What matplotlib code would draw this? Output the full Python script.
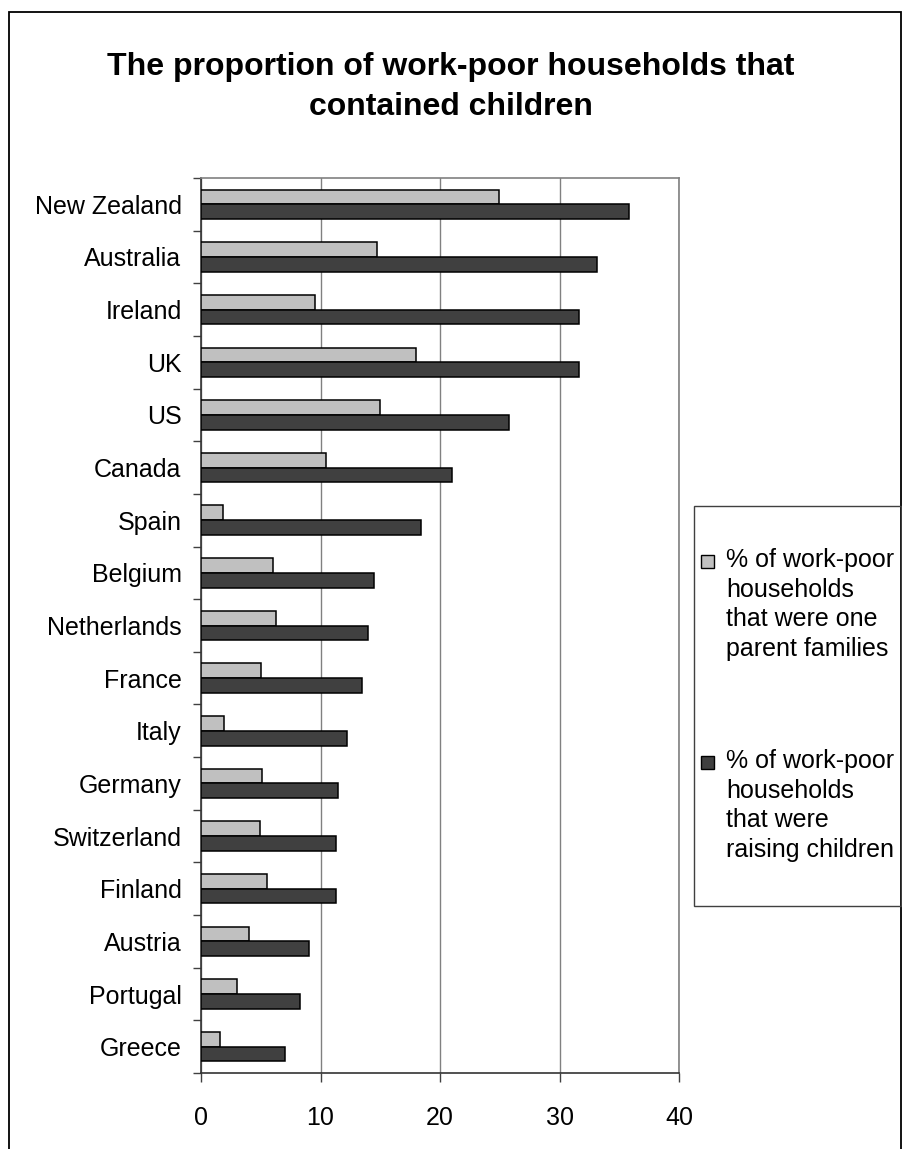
import matplotlib
matplotlib.use("Agg")
import matplotlib.pyplot as plt
import numpy as np
from matplotlib.patches import Rectangle
from matplotlib.ticker import FixedLocator, NullFormatter

# ---- data ----
countries = ["New Zealand", "Australia", "Ireland", "UK", "US", "Canada", "Spain",
             "Belgium", "Netherlands", "France", "Italy", "Germany", "Switzerland",
             "Finland", "Austria", "Portugal", "Greece"]
one_parent = [24.9, 14.7, 9.5, 18.0, 15.0, 10.5, 1.8, 6.0, 6.3, 5.0, 1.9, 5.1,
              4.9, 5.5, 4.0, 3.0, 1.6]
raising_children = [35.8, 33.1, 31.6, 31.6, 25.8, 21.0, 18.4, 14.5, 14.0, 13.5,
                    12.2, 11.5, 11.3, 11.3, 9.0, 8.3, 7.0]
x_ticks = [0, 10, 20, 30, 40]
series_labels = ["% of work-poor\nhouseholds\nthat were one\nparent families",
                 "% of work-poor\nhouseholds\nthat were\nraising children"]
title = "The proportion of work-poor households that\ncontained children"

LIGHT = "#C0C0C0"
DARK = "#404040"
FONT = "Liberation Sans"

W, H = 902, 1149
plt.rcParams['font.family'] = [FONT, 'DejaVu Sans']
fig = plt.figure(figsize=(W / 100, H / 100), dpi=100)


def fx(x):
    return x / W


def fy(y):
    return 1 - y / H


# figure border (bottom edge off-canvas)
fig.patches.append(Rectangle((fx(8.5), -0.05), fx(900.5) - fx(8.5), fy(11.5) + 0.05,
                             transform=fig.transFigure, fill=False,
                             edgecolor="black", linewidth=1.3, zorder=0))

ax = fig.add_axes([fx(201), fy(1073), fx(679) - fx(201), fy(178) - fy(1073)])

n = len(countries)
y = np.arange(n)
bh = 0.28
ax.barh(y - bh / 2, one_parent, height=bh, color=LIGHT, edgecolor="black",
        linewidth=1.1, zorder=3)
ax.barh(y + bh / 2, raising_children, height=bh, color=DARK, edgecolor="black",
        linewidth=1.1, zorder=3)

ax.set_ylim(n - 0.5, -0.5)
ax.set_xlim(x_ticks[0], x_ticks[-1])
ax.set_xticks(x_ticks)
ax.set_xticklabels([str(t) for t in x_ticks], fontsize=18)
ax.set_yticks(y)
ax.set_yticklabels(countries, fontsize=18)
ax.yaxis.set_minor_locator(FixedLocator(np.arange(-0.5, n, 1.0)))
ax.yaxis.set_minor_formatter(NullFormatter())
ax.tick_params(axis="y", which="major", length=0, pad=14)
ax.tick_params(axis="y", which="minor", length=6, width=1, color="#404040",
               direction="out")
ax.tick_params(axis="x", which="major", length=6.5, width=1, color="#404040",
               direction="out", pad=17)

ax.grid(axis="x", color="#808080", linewidth=1, zorder=1)
ax.set_axisbelow(True)
for s in ["top", "right"]:
    ax.spines[s].set_color("#808080")
    ax.spines[s].set_linewidth(1.2)
for s in ["left", "bottom"]:
    ax.spines[s].set_color("#333333")
    ax.spines[s].set_linewidth(1.2)

# title
fig.text(0.5, fy(87), title, ha="center", va="center", fontsize=23,
         fontweight="bold", linespacing=1.45)

# legend (manual, Excel style)
fig.patches.append(Rectangle((fx(694), fy(906)), fx(900.5) - fx(694), fy(506) - fy(906),
                             transform=fig.transFigure, fill=False,
                             edgecolor="#404040", linewidth=1.0, zorder=2))
entry_tops = [548, 749]
for label, col, top in zip(series_labels, [LIGHT, DARK], entry_tops):
    fig.patches.append(Rectangle((fx(701), fy(top + 20)), fx(714) - fx(701),
                                 fy(top + 7) - fy(top + 20),
                                 transform=fig.transFigure, facecolor=col,
                                 edgecolor="black", linewidth=1.0, zorder=3))
    fig.text(fx(726), fy(top), label, ha="left", va="top", fontsize=18,
             linespacing=1.3)

fig.savefig("out.png", dpi=100)
